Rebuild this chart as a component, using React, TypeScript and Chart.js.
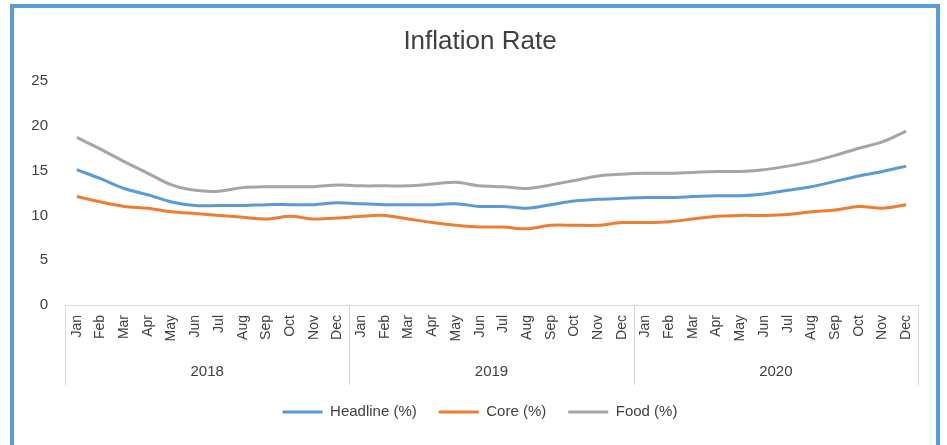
import React, { useEffect, useRef } from "react";
import { Chart, registerables } from "chart.js";

Chart.register(...registerables);

const years = ["2018", "2019", "2020"];
const months = ["Jan", "Feb", "Mar", "Apr", "May", "Jun", "Jul", "Aug", "Sep", "Oct", "Nov", "Dec"];

const headline = [
  15.1, 14.1, 13.0, 12.3, 11.5, 11.1, 11.1, 11.1, 11.2, 11.2, 11.2, 11.4,
  11.3, 11.2, 11.2, 11.2, 11.3, 11.0, 11.0, 10.8, 11.2, 11.6, 11.8, 11.9,
  12.0, 12.0, 12.1, 12.2, 12.2, 12.4, 12.8, 13.2, 13.8, 14.4, 14.9, 15.5,
];
const core = [
  12.1, 11.5, 11.0, 10.8, 10.4, 10.2, 10.0, 9.8, 9.6, 9.9, 9.6, 9.7,
  9.9, 10.0, 9.6, 9.2, 8.9, 8.7, 8.7, 8.5, 8.9, 8.9, 8.9, 9.2,
  9.2, 9.3, 9.6, 9.9, 10.0, 10.0, 10.1, 10.4, 10.6, 11.0, 10.8, 11.2,
];
const food = [
  18.7, 17.4, 16.0, 14.7, 13.4, 12.8, 12.7, 13.1, 13.2, 13.2, 13.2, 13.4,
  13.3, 13.3, 13.3, 13.5, 13.7, 13.3, 13.2, 13.0, 13.4, 13.9, 14.4, 14.6,
  14.7, 14.7, 14.8, 14.9, 14.9, 15.1, 15.5, 16.0, 16.7, 17.5, 18.2, 19.4,
];

const FONT = "'Liberation Sans', Arial, sans-serif";
const TEXT = "#404040";

const yearPlugin = {
  id: "yearGroups",
  afterLayout(chart: any) {
    [chart.legend, chart.titleBlock].forEach((b: any) => {
      if (b) {
        b.left += 14;
        b.right += 14;
      }
    });
  },
  afterDraw(chart: any) {
    const x = chart.scales.x;
    const area = chart.chartArea;
    const ctx = chart.ctx;
    const step = x.getPixelForValue(1) - x.getPixelForValue(0);
    ctx.save();
    ctx.strokeStyle = "#D9D9D9";
    ctx.lineWidth = 1;
    ctx.fillStyle = TEXT;
    ctx.font = `15px ${FONT}`;
    ctx.textAlign = "center";
    ctx.textBaseline = "middle";
    const top = Math.round(area.bottom);
    const bottom = top + 80;
    years.forEach((yr, g) => {
      const left = x.getPixelForValue(g * months.length) - step / 2;
      const right = x.getPixelForValue(g * months.length + months.length - 1) + step / 2;
      [left, right].forEach((px) => {
        const p = Math.round(px) + 0.5;
        ctx.beginPath();
        ctx.moveTo(p, top);
        ctx.lineTo(p, bottom);
        ctx.stroke();
      });
      ctx.fillText(yr, (left + right) / 2, area.bottom + 67);
    });
    ctx.restore();
  },
};

export default function App() {
  const ref = useRef<HTMLCanvasElement | null>(null);
  useEffect(() => {
    if (!ref.current) return;
    const labels = years.flatMap(() => months);
    const chart = new Chart(ref.current, {
      type: "line",
      data: {
        labels,
        datasets: [
          { label: "Headline (%)", data: headline, borderColor: "#5B9BD5", backgroundColor: "#5B9BD5", borderWidth: 3, pointRadius: 0, tension: 0.3 },
          { label: "Core (%)", data: core, borderColor: "#ED7D31", backgroundColor: "#ED7D31", borderWidth: 3, pointRadius: 0, tension: 0.3 },
          { label: "Food (%)", data: food, borderColor: "#A5A5A5", backgroundColor: "#A5A5A5", borderWidth: 3, pointRadius: 0, tension: 0.3 },
        ],
      },
      options: {
        responsive: false,
        animation: false,
        devicePixelRatio: 1,
        layout: { padding: { left: 0, right: 18, top: 0, bottom: 15.5 } },
        plugins: {
          title: {
            display: true,
            text: "Inflation Rate",
            color: TEXT,
            font: { family: FONT, size: 26, weight: "normal" },
            padding: { top: 18.4, bottom: 23.4 },
          },
          legend: {
            position: "bottom",
            labels: {
              usePointStyle: true,
              pointStyle: "line",
              pointStyleWidth: 40,
              padding: 22,
              color: TEXT,
              font: { family: FONT, size: 15 },
            },
          },
          tooltip: { enabled: false },
        },
        scales: {
          x: {
            type: "category",
            offset: true,
            grid: { display: false, drawTicks: false },
            border: { display: true, color: "#D9D9D9", width: 1 },
            ticks: {
              autoSkip: false,
              maxRotation: 90,
              minRotation: 90,
              padding: 10,
              color: TEXT,
              font: { family: FONT, size: 14 },
            },
            afterFit: (s: any) => { s.height = 77.5; },
          },
          y: {
            min: 0,
            max: 25,
            grid: { display: false, drawTicks: false },
            border: { display: false },
            ticks: {
              stepSize: 5,
              padding: 17,
              color: TEXT,
              font: { family: FONT, size: 15 },
            },
            afterFit: (s: any) => { s.width = 51; },
          },
        },
      },
      plugins: [yearPlugin],
    });
    return () => chart.destroy();
  }, []);

  return (
    <div
      style={{
        position: "absolute",
        left: 10,
        top: 4,
        width: 922,
        height: 437,
        borderLeft: "4px solid #5B9BD5",
        borderTop: "4px solid #5B9BD5",
        borderRight: "4px solid #5B9BD5",
        background: "#fff",
      }}
    >
      <canvas ref={ref} width={922} height={437} style={{ display: "block" }} />
    </div>
  );
}
